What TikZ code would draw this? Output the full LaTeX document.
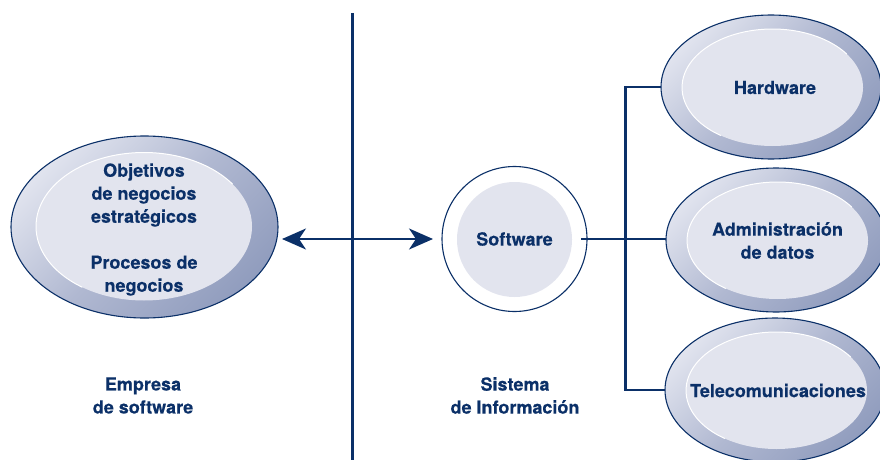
\documentclass[tikz,border=0pt]{standalone}
\usepackage{fontspec}
\setmainfont[BoldFeatures={FakeBold=0.3}]{TeX Gyre Heros}
\usetikzlibrary{shapes.geometric,arrows.meta}
\definecolor{navy}{HTML}{0B3068}
\definecolor{pale}{HTML}{E2E4EE}
\definecolor{ringa}{HTML}{E0E3EE}
\definecolor{ringm}{HTML}{B0B8D1}
\definecolor{ringb}{HTML}{919DBE}
\tikzset{
  lbl/.style={text=navy,font=\fontsize{18}{23}\selectfont\bfseries,align=center,inner sep=0pt},
  outer/.style={ellipse,draw=navy,line width=1.1pt,top color=ringa,bottom color=ringb,middle color=ringm,shading angle=45,inner sep=0pt,outer sep=0pt},
  inner/.style={ellipse,fill=pale,inner sep=0pt,outer sep=0pt},
  conn/.style={draw=navy,line width=2.3pt},
  dbl/.style={conn,{Stealth[length=24pt,width=21pt,inset=7pt]}-{Stealth[length=24pt,width=21pt,inset=7pt]}},
  rim/.style={draw=white,line width=1pt,line cap=round}
}
\newcommand{\rimarc}[4]{\draw[rim] plot[smooth,domain=125:325,samples=50] ({#1+#3*cos(\x)},{#2+#4*sin(\x)});}
\begin{document}
\begin{tikzpicture}[x=1pt,y=-1pt]
\useasboundingbox (0,0) rectangle (880,460);
\clip (0,0) rectangle (880,460);
% divider
\coordinate (dtop) at (352.5,13);
\coordinate (dbot) at (352.5,460);
\draw[conn,line width=2.4pt] (dtop) -- (dbot);
% left ellipse
\node[outer,minimum width=267pt,minimum height=182pt] (emp) at (144.5,227) {};
\node[inner,minimum width=216pt,minimum height=148pt] (empin) at (144,226.5) {};
\rimarc{144}{226.5}{108}{74}
\node[lbl] (emptxt) at (144,229.5) {Objetivos\\de negocios\\estratégicos\\\mbox{}\\Procesos de\\negocios};
% software
\node[circle,draw=navy,line width=1.1pt,fill=white,minimum size=145pt,inner sep=0pt,outer sep=0pt] (sw) at (514.5,239) {};
\node[circle,fill=pale,minimum size=115pt,inner sep=0pt] (swin) at (514.5,239.5) {};
\node[lbl] (swtxt) at (514.5,239) {Software};
% right ellipses
\node[outer,minimum width=220pt,minimum height=144pt] (hw) at (771,87) {};
\node[inner,minimum width=181pt,minimum height=117pt] (hwin) at (772.5,87.5) {};
\rimarc{772.5}{87.5}{90.5}{58.5}
\node[lbl] (hwtxt) at (775,87.5) {Hardware};
\node[outer,minimum width=220pt,minimum height=144pt] (adm) at (776,240) {};
\node[inner,minimum width=181pt,minimum height=117pt] (admin) at (777.5,240.5) {};
\rimarc{777.5}{240.5}{90.5}{58.5}
\node[lbl] (admtxt) at (777.5,240.5) {Administración\\de datos};
\node[outer,minimum width=220pt,minimum height=144pt] (tel) at (775,390) {};
\node[inner,minimum width=181pt,minimum height=117pt] (telin) at (776.5,390.5) {};
\rimarc{776.5}{390.5}{90.5}{58.5}
\node[lbl] (teltxt) at (778,390.5) {Telecomunicaciones};
% connectors
\coordinate (aL) at (282,239);
\coordinate (aR) at (433,239);
\draw[dbl] (aL) -- (aR);
\coordinate (sout) at (581,239);
\draw[conn] (sout) -- (sout -| adm.west);
\coordinate (bus) at (625.5,239);
\draw[conn] (hw.west) -| (bus) |- (tel.west);
% captions
\node[lbl] (capL) at (143,395.5) {Empresa\\de software};
\node[lbl] (capR) at (515,395.5) {Sistema\\de Información};
\end{tikzpicture}
\end{document}
